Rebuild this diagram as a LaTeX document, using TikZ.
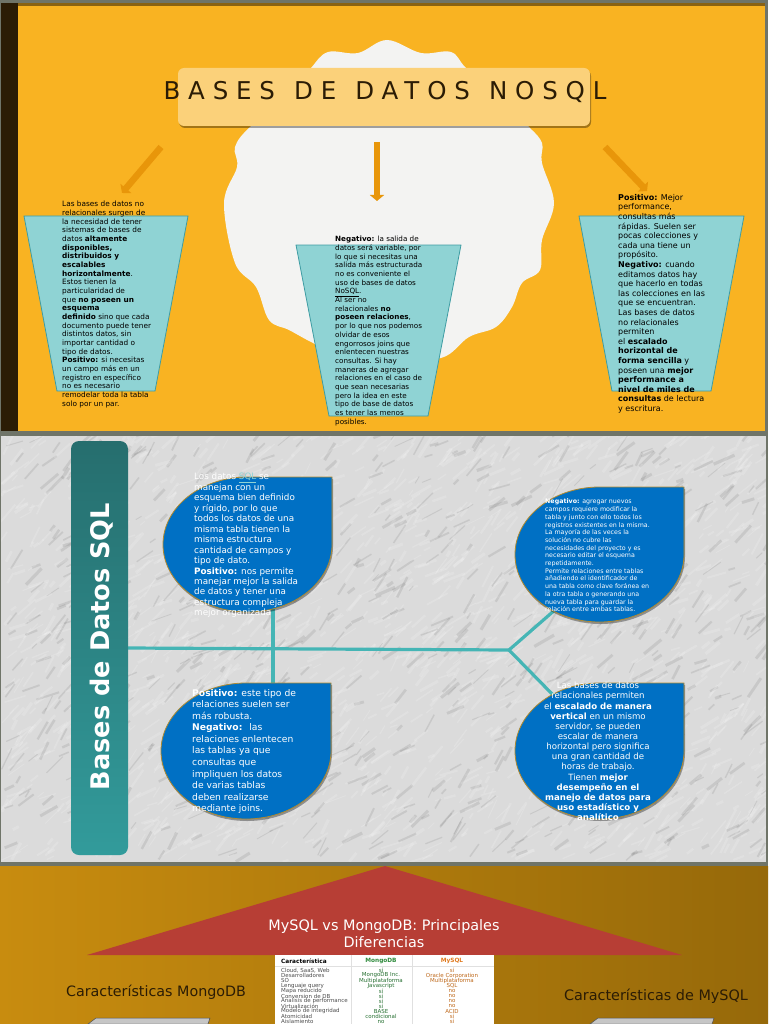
\documentclass[tikz,border=0pt]{standalone}
\usepackage{fontspec}
\setmainfont{DejaVu Sans}
\newfontfamily\titlefont[LetterSpace=32]{DejaVu Sans}
\usepackage{tikz}
\usetikzlibrary{arrows.meta}
\usetikzlibrary{shadows}
\definecolor{panelYellow}{HTML}{F9B322}
\definecolor{cloudWhite}{HTML}{F3F3F2}
\definecolor{sideDark}{HTML}{2B1C05}
\definecolor{frameGray}{HTML}{6F7468}
\definecolor{cupTeal}{HTML}{8FD3D4}
\definecolor{cupEdge}{HTML}{3F9CA3}
\definecolor{pointOrange}{HTML}{E8960A}
\definecolor{dropBlue}{HTML}{0070C4}
\definecolor{dropEdge}{HTML}{B08A30}
\definecolor{lineTeal}{HTML}{45B5B5}
\definecolor{roofRed}{HTML}{B73E35}
\definecolor{mongoGreen}{HTML}{2E8B3C}
\definecolor{mysqlOrange}{HTML}{E07A1F}
\tikzset{
	softshadow/.style={drop shadow={shadow xshift=1pt,shadow yshift=-2pt,opacity=.35,fill=black}},
	cup/.style={draw=cupEdge, fill=cupTeal, line width=0.8pt},
	pointer/.style={draw=pointOrange, line width=6.5pt, -{Triangle[length=6pt,width=14pt]}},
	teardrop/.style={draw=dropEdge, fill=dropBlue, line width=0.8pt, softshadow},
	link/.style={draw=lineTeal, line width=3.2pt},
	shelf/.style={draw=black!70, fill=gray!45, line width=0.5pt},
	cuptext/.style={anchor=north west, inner sep=0pt, align=left, text=black},
	droptext/.style={anchor=north west, inner sep=0pt, align=left, text=white},
}
\begin{document}
\begin{tikzpicture}[x=1pt,y=-1pt]
	\useasboundingbox (0,0) rectangle (768,1024);

	\fill[panelYellow] (0,0) rectangle (768,431);
	\fill[black!45!panelYellow] (0,3) rectangle (768,6);
	\fill[frameGray] (0,0) rectangle (768,3);
	\fill[frameGray] (765,0) rectangle (768,431);
	\fill[sideDark] (1,3) rectangle (18,431);
	\fill[frameGray] (0,3) rectangle (1,431);

	\fill[cloudWhite] plot[smooth cycle, tension=0.6] coordinates {
		(387,40) (421,53) (451,52) (466,68) (500,100) (529,127) (542,143) (542,163) (554,203)
		(542,240) (540,270) (522,283) (512,307) (496,327) (469,337) (441,358) (390,358)
		(340,355) (313,343) (289,330) (269,320) (256,287) (235,263) (224,203) (237,167)
		(235,147) (250,127) (290,95) (311,68) (328,52) (358,53)};

	\node (title) [fill=panelYellow!60!white, rounded corners=6pt, minimum width=412pt, minimum height=58pt, softshadow] at (384,97) {};
	\node (titleText) [text=sideDark, font=\fontsize{24.5}{28}\selectfont\titlefont] at (385,91.5) {BASES\hspace{3.5pt} DE\hspace{3.5pt} DATOS\hspace{3.5pt} NOSQL};

	\coordinate (leftFrom) at (161,147);
	\coordinate (leftTo) at (122,193);
	\coordinate (midFrom) at (377,142);
	\coordinate (midTo) at (377,201);
	\coordinate (rightFrom) at (605,147);
	\coordinate (rightTo) at (647,191);
	\draw[pointer] (leftFrom) -- (leftTo);
	\draw[pointer] (midFrom) -- (midTo);
	\draw[pointer] (rightFrom) -- (rightTo);

	\path[cup] (24,216) -- (188,216) -- (155,391) -- (57,391) -- cycle;
	\path[cup] (296,245) -- (461,245) -- (428,416) -- (329,416) -- cycle;
	\path[cup] (579,216) -- (744,216) -- (711,391) -- (612,391) -- cycle;

	\node (leftText) [cuptext, font=\fontsize{7.35}{8.67}\selectfont] at (62,201) {
		Las bases de datos no\\
		relacionales surgen de\\
		la necesidad de tener\\
		sistemas de bases de\\
		datos \textbf{altamente}\\
		\textbf{disponibles,}\\
		\textbf{distribuidos y}\\
		\textbf{escalables}\\
		\textbf{horizontalmente}.\\
		Estos tienen la\\
		particularidad de\\
		que \textbf{no poseen un}\\
		\textbf{esquema}\\
		\textbf{definido} sino que cada\\
		documento puede tener\\
		distintos datos, sin\\
		importar cantidad o\\
		tipo de datos.\\
		\textbf{Positivo:} si necesitas\\
		un campo más en un\\
		registro en específico\\
		no es necesario\\
		remodelar toda la tabla\\
		solo por un par.};

	\node (midText) [cuptext, font=\fontsize{7.2}{8.7}\selectfont] at (335,236) {
		\textbf{Negativo:} la salida de\\
		datos será variable, por\\
		lo que si necesitas una\\
		salida más estructurada\\
		no es conveniente el\\
		uso de bases de datos\\
		\underline{NoSQL}.\\
		Al ser no\\
		relacionales \textbf{no}\\
		\textbf{poseen relaciones},\\
		por lo que nos podemos\\
		olvidar de esos\\
		engorrosos joins que\\
		enlentecen nuestras\\
		consultas. Si hay\\
		maneras de agregar\\
		relaciones en el caso de\\
		que sean necesarias\\
		pero la idea en este\\
		tipo de base de datos\\
		es tener las menos\\
		posibles.};

	\node (rightText) [cuptext, font=\fontsize{8}{9.6}\selectfont] at (618,194) {
		\textbf{Positivo:} Mejor\\
		performance,\\
		consultas más\\
		rápidas. Suelen ser\\
		pocas colecciones y\\
		cada una tiene un\\
		propósito.\\
		\textbf{Negativo:} cuando\\
		editamos datos hay\\
		que hacerlo en todas\\
		las colecciones en las\\
		que se encuentran.\\
		Las bases de datos\\
		no relacionales\\
		permiten\\
		el \textbf{escalado}\\
		\textbf{horizontal de}\\
		\textbf{forma sencilla} y\\
		poseen una \textbf{mejor}\\
		\textbf{performance a}\\
		\textbf{nivel de miles de}\\
		\textbf{consultas} de lectura\\
		y escritura.};

	\begin{scope}
		\clip (0,436) rectangle (768,862);
		\fill[black!14] (0,436) rectangle (768,862);
		\pgfmathsetseed{11}
		\foreach \i in {1,...,2400} {
			\pgfmathsetmacro{\vx}{rnd*768}
			\pgfmathsetmacro{\vy}{436+rnd*426}
			\pgfmathsetmacro{\vl}{6+rnd*18}
			\pgfmathsetmacro{\va}{-15-rnd*50}
			\pgfmathsetmacro{\vg}{rnd<0.3 ? 60 : 0}
			\pgfmathsetmacro{\vw}{0.8+rnd*2.4}
			\draw[black!\vg, opacity=0.16, line width=\vw pt] (\vx,\vy) -- ++(\va:\vl);
		}
	\end{scope}
	\fill[frameGray] (0,431) rectangle (768,436);
	\fill[frameGray] (0,436) rectangle (1,862);
	\fill[frameGray] (766,436) rectangle (768,862);

	\coordinate (spineStart) at (128,648);
	\coordinate (spineFork) at (509,650);
	\coordinate (dropOneFoot) at (273,605);
	\coordinate (dropTwoHead) at (273,690);
	\coordinate (dropThreeFoot) at (556,609);
	\coordinate (dropFourHead) at (556,698);
	\draw[link] (spineStart) -- (spineFork);
	\draw[link] (dropOneFoot) -- (dropTwoHead);
	\draw[link] (dropThreeFoot) -- (spineFork) -- (dropFourHead);

	\node (barSql) [minimum width=57pt, minimum height=414pt, rounded corners=8pt, top color={rgb,255:red,38;green,110;blue,110}, bottom color={rgb,255:red,50;green,155;blue,155}, inner sep=0pt] at (99.5,648) {};
	\node (barText) [rotate=90, text=white, inner sep=0pt, font=\fontsize{25.6}{30}\selectfont\bfseries] at (102,646.5) {Bases de Datos SQL};

	\path[teardrop] (332,477) -- (247.5,477) arc[start angle=270, end angle=0, x radius=84.5, y radius=67.5] -- cycle;
	\path[teardrop] (331,683) -- (246,683) arc[start angle=270, end angle=0, x radius=85, y radius=68] -- cycle;
	\path[teardrop] (684,487) -- (599.5,487) arc[start angle=270, end angle=0, x radius=84.5, y radius=67.5] -- cycle;
	\path[teardrop] (684,683) -- (599.5,683) arc[start angle=270, end angle=0, x radius=84.5, y radius=68] -- cycle;

	\node (dropOneText) [droptext, font=\fontsize{8.8}{10.46}\selectfont] at (194,473) {
		Los datos \textcolor{cupTeal}{\underline{SQL}} se\\
		manejan con un\\
		esquema bien definido\\
		y rígido, por lo que\\
		todos los datos de una\\
		misma tabla tienen la\\
		misma estructura\\
		cantidad de campos y\\
		tipo de dato.\\
		\textbf{Positivo:} nos permite\\
		manejar mejor la salida\\
		de datos y tener una\\
		estructura compleja\\
		mejor organizada};

	\node (dropTwoText) [droptext, font=\fontsize{9.2}{11.55}\selectfont] at (192,689) {
		\textbf{Positivo:} este tipo de\\
		relaciones suelen ser\\
		más robusta.\\
		\textbf{Negativo:}~ las\\
		relaciones enlentecen\\
		las tablas ya que\\
		consultas que\\
		impliquen los datos\\
		de varias tablas\\
		deben realizarse\\
		mediante joins.};

	\node (dropThreeText) [droptext, font=\fontsize{6.3}{7.7}\selectfont] at (545,499) {
		\textbf{Negativo:} agregar nuevos\\
		campos requiere modificar la\\
		tabla y junto con ello todos los\\
		registros existentes en la misma.\\
		La mayoría de las veces la\\
		solución no cubre las\\
		necesidades del proyecto y es\\
		necesario editar el esquema\\
		repetidamente.\\
		Permite relaciones entre tablas\\
		añadiendo el identificador de\\
		una tabla como clave foránea en\\
		la otra tabla o generando una\\
		nueva tabla para guardar la\\
		relación entre ambas tablas.};

	\node (dropFourText) [anchor=north, inner sep=0pt, align=center, text=white, font=\fontsize{8.6}{10.15}\selectfont] at (598,682) {
		Las bases de datos\\
		relacionales permiten\\
		el \textbf{escalado de manera}\\
		\textbf{vertical} en un mismo\\
		servidor, se pueden\\
		escalar de manera\\
		horizontal pero significa\\
		una gran cantidad de\\
		horas de trabajo.\\
		Tienen \textbf{mejor}\\
		\textbf{desempeño en el}\\
		\textbf{manejo de datos para}\\
		\textbf{uso estadístico y}\\
		\textbf{analítico}};

	\fill[frameGray] (0,862) rectangle (768,866);
	\shade[left color={rgb,255:red,200;green,140;blue,15}, right color={rgb,255:red,150;green,105;blue,10}] (0,866) rectangle (768,1024);

	\path[fill=roofRed] (385,866) -- (682,955) -- (87,955) -- cycle;
	\node (roofText) [text=white, align=center, font=\fontsize{14.4}{17}\selectfont] at (384,933.5) {MySQL vs MongoDB: Principales\\Diferencias};

	\node (compareTable) [fill=white, minimum width=219pt, minimum height=69pt, inner sep=0pt] at (384.5,989.5) {};
	\draw[black!12, line width=0.5pt] (351,955) -- (351,1024);
	\draw[black!12, line width=0.5pt] (412,955) -- (412,1024);
	\draw[black!12, line width=0.5pt] (275,966) -- (494,966);
	\begin{scope}[every node/.style={inner sep=0pt, font=\fontsize{5.5}{6}\selectfont}]
		\node (headFeature) [anchor=west, text=black, font=\fontsize{5.8}{6}\selectfont] at (281,961) {\textbf{Característica}};
		\node (headMongo) [text=mongoGreen, font=\fontsize{5.8}{6}\selectfont] at (381,961) {\textbf{MongoDB}};
		\node (headMysql) [text=mysqlOrange, font=\fontsize{5.8}{6}\selectfont] at (452,961) {\textbf{MySQL}};
		\foreach \y/\feature/\mongo/\mysql in {
			970.5/{Cloud, SaaS, Web}/sí/sí,
			975.5/Desarrolladores/MongoDB Inc./Oracle Corporation,
			980.5/SO/Multiplataforma/Multiplataforma,
			985.7/Lenguaje query/Javascript/SQL,
			990.9/Mapa reducido/sí/no,
			996/Conversion de DB/sí/no,
			1001.2/Analisis de performance/sí/no,
			1006.4/Virtualización/sí/no,
			1011.4/Modelo de integridad/BASE/ACID,
			1016.5/Atomicidad/condicional/sí,
			1021.5/Aislamiento/no/sí} {
			\node [anchor=west, text=black!70] at (281,\y) {\feature};
			\node [text=mongoGreen!80!black] at (381,\y) {\mongo};
			\node [text=mysqlOrange!85!black] at (452,\y) {\mysql};
		}
	\end{scope}

	\node (mongoLabel) [text=sideDark, font=\fontsize{14.3}{17}\selectfont] at (156,992) {Características MongoDB};
	\node (mysqlLabel) [text=sideDark, font=\fontsize{14.4}{17}\selectfont] at (656,996) {Características de MySQL};

	\path[shelf] (88,1024) -- (96,1018) -- (210,1018) -- (208,1024) -- cycle;
	\path[shelf] (590,1024) -- (598,1018) -- (714,1018) -- (712,1024) -- cycle;
\end{tikzpicture}
\end{document}
